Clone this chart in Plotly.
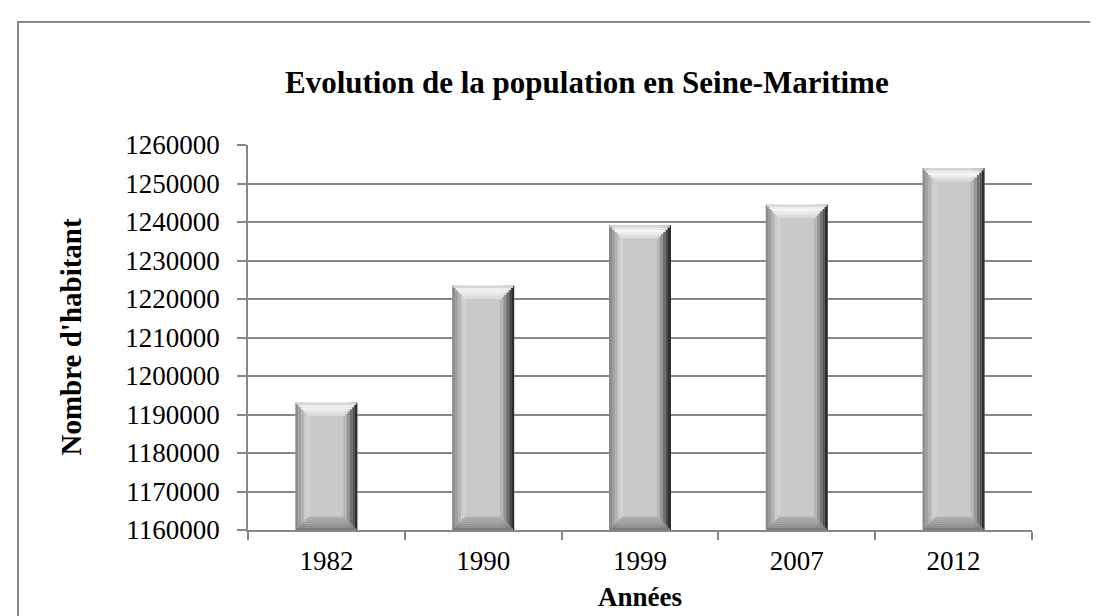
import plotly.graph_objects as go

# données
annees = ["1982", "1990", "1999", "2007", "2012"]
habitants = [1193039, 1223429, 1239138, 1244500, 1253931]
y_ticks = list(range(1160000, 1260001, 10000))

Y_MIN, Y_MAX = 1160000, 1260000
W = 0.395                 # largeur des barres (unités de catégorie)
PX_X = 1 / 156.8          # 1 px en unités de catégorie
PX_Y = 10000 / 38.5       # 1 px en unités de l'axe y
GRID = "#878787"

fig = go.Figure()


def strip(offset, width, color, y=None, base=None):
    fig.add_trace(go.Bar(
        x=annees, y=habitants if y is None else y, base=base,
        offset=offset, width=width,
        marker=dict(color=color, line=dict(width=0)),
        hoverinfo="skip", showlegend=False,
    ))


# face principale
fig.add_trace(go.Bar(
    x=annees, y=habitants, offset=-W / 2, width=W,
    marker=dict(color="#c9c9c9", line=dict(width=0)),
    showlegend=False,
))

# dégradé côté gauche (px depuis le bord gauche)
left = [(0, 3, "#8c8c8c"), (3, 6, "#a0a0a0"), (6, 9, "#b4b4b4"),
        (9, 12, "#cdcdcd"), (12, 14, "#d3d3d3")]
for a, b, c in left:
    strip(-W / 2 + a * PX_X, (b - a) * PX_X, c)

# dégradé côté droit (px depuis le bord droit)
right = [(0, 3, "#2e2e2e"), (3, 5, "#4a4a4a"), (5, 8, "#6e6e6e"),
         (8, 11, "#959595"), (11, 14, "#b5b5b5")]
for a, b, c in right:
    strip(W / 2 - b * PX_X, (b - a) * PX_X, c)

# biseau du haut
step = 2.2
top_cols = ["#d6d6d6", "#eeeeee", "#f5f5f5", "#efefef", "#e6e6e6", "#dcdcdc"]
for i, c in enumerate(top_cols):
    inset = i * step + step / 2
    h = step * PX_Y
    strip(-W / 2 + inset * PX_X, W - 2 * inset * PX_X, c,
          y=[h] * len(habitants),
          base=[v - (i + 1) * h for v in habitants])

# biseau du bas
bot_cols = ["#7c7c7c", "#8a8a8a", "#959595", "#9e9e9e", "#a6a6a6", "#aeaeae"]
for i, c in enumerate(bot_cols):
    inset = i * step + step / 2
    h = step * PX_Y
    strip(-W / 2 + inset * PX_X, W - 2 * inset * PX_X, c,
          y=[h] * len(habitants),
          base=[Y_MIN + i * h] * len(habitants))

fig.update_layout(
    width=1098, height=616,
    margin=dict(l=240, r=74, t=137, b=94),
    paper_bgcolor="white", plot_bgcolor="white",
    barmode="overlay", showlegend=False,
    font=dict(family="Liberation Serif", color="black"),
    annotations=[
        dict(text="<b>Evolution de la population en Seine-Maritime</b>",
             xref="paper", yref="paper", x=(275 - 240) / 784, y=(522 - 74) / 385,
             xanchor="left", yanchor="middle", showarrow=False,
             font=dict(size=31, family="Liberation Serif")),
        dict(text="<b>Nombre d'habitant</b>", textangle=-90,
             xref="paper", yref="paper", x=(62 - 240) / 784, y=0.5,
             xanchor="center", yanchor="middle", showarrow=False,
             font=dict(size=29, family="Liberation Serif")),
        dict(text="<b>Années</b>",
             xref="paper", yref="paper", x=0.5, y=(522 - 589) / 385,
             xanchor="center", yanchor="middle", showarrow=False,
             font=dict(size=27, family="Liberation Serif")),
    ],
    shapes=[
        dict(type="rect", xref="paper", yref="paper",
             x0=(10 - 240) / 784, x1=(1130 - 240) / 784,
             y0=(522 - 650) / 385, y1=(522 - 14) / 385,
             line=dict(color="#888888", width=2), fillcolor="rgba(0,0,0,0)",
             layer="below"),
    ],
)

fig.update_yaxes(
    range=[Y_MIN, Y_MAX], tickvals=y_ticks, tickformat="d",
    showgrid=True, gridcolor=GRID, gridwidth=1.5, zeroline=False,
    showline=True, linecolor=GRID, linewidth=1.5,
    ticks="outside", ticklen=9, tickcolor=GRID, tickwidth=1.5,
    tickfont=dict(size=27, family="Liberation Serif"),
    ticklabelstandoff=12,
)
fig.update_xaxes(
    type="category", showgrid=False,
    showline=True, linecolor=GRID, linewidth=1.5,
    ticks="outside", ticklen=8, tickson="boundaries", tickcolor=GRID, tickwidth=1.5,
    tickfont=dict(size=27, family="Liberation Serif"),
    ticklabelstandoff=6,
)

fig.write_html("out.html")
